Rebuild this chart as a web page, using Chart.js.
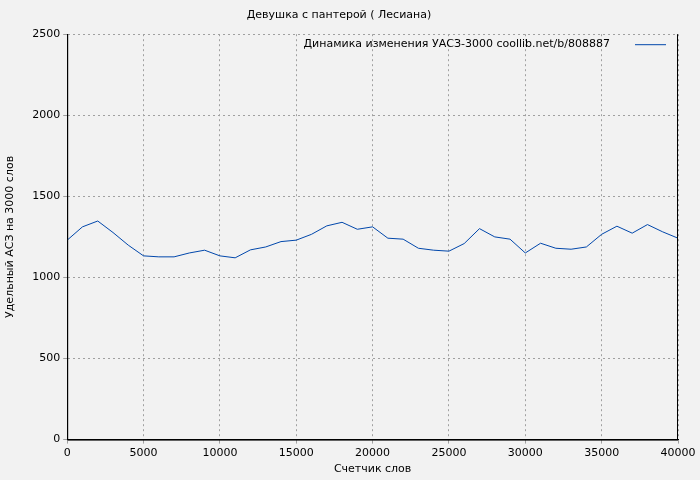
<!DOCTYPE html>
<html><head><meta charset="utf-8">
<script src="https://cdn.jsdelivr.net/npm/chart.js@4/dist/chart.umd.min.js"></script>
<style>html,body{margin:0;background:#f2f2f2}</style>
</head><body><canvas id="c" width="700" height="480"></canvas>
<script>
const xValues=[0,1000,2000,3000,4000,5000,6000,7000,8000,9000,10000,11000,12000,13000,14000,15000,16000,17000,18000,19000,20000,21000,22000,23000,24000,25000,26000,27000,28000,29000,30000,31000,32000,33000,34000,35000,36000,37000,38000,39000,40000];
const yValues=[1230,1312,1348,1277,1199,1133,1127,1127,1151,1168,1133,1121,1170,1188,1221,1230,1266,1318,1340,1297,1312,1242,1236,1180,1168,1162,1209,1301,1250,1236,1151,1211,1180,1174,1188,1266,1316,1273,1326,1281,1242];
const seriesName='Динамика изменения УАСЗ-3000 coollib.net/b/808887';
const titleText='Девушка с пантерой ( Лесиана)';
const font='"DejaVu Sans", sans-serif';
const legendPlugin={id:'lg',afterDraw(ch){const c=ch.ctx,a=ch.chartArea;c.save();c.font='11px '+font;c.fillStyle='#000';c.textAlign='right';c.textBaseline='middle';c.fillText(seriesName,a.right-68,a.top+10);c.strokeStyle='#0047ab';c.lineWidth=1;c.beginPath();c.moveTo(a.right-43,a.top+10.5);c.lineTo(a.right-12,a.top+10.5);c.stroke();c.restore();}};
new Chart(document.getElementById('c'),{type:'line',
data:{datasets:[{data:xValues.map((x,i)=>({x,y:yValues[i]})),borderColor:'#0047ab',borderWidth:1,pointRadius:0,tension:0}]},
options:{responsive:false,animation:false,devicePixelRatio:1,
layout:{padding:{top:0,right:22,left:0,bottom:0}},
plugins:{legend:{display:false},tooltip:{enabled:false},
title:{display:true,text:titleText,color:'#000',font:{family:font,size:11,weight:'normal'},padding:{top:9,bottom:12}}},
scales:{
x:{type:'linear',min:0,max:40000,ticks:{stepSize:5000,color:'#000',font:{family:font,size:11},maxRotation:0,callback:v=>String(v)},
grid:{color:'#a0a0a0',tickLength:4},border:{color:'#000',dash:[2,3]},
title:{display:true,text:'Счетчик слов',color:'#000',font:{family:font,size:11},padding:{top:0}}},
y:{min:0,max:2500,afterFit(s){s.width+=8;},ticks:{stepSize:500,color:'#000',font:{family:font,size:11},callback:v=>String(v)},
grid:{color:'#a0a0a0',tickLength:4},border:{color:'#000',dash:[2,3]},
title:{display:true,text:'Удельный АСЗ на 3000 слов',color:'#000',font:{family:font,size:11}}}}},
plugins:[legendPlugin,{id:'bg',beforeDraw(ch){const c=ch.ctx;c.save();c.fillStyle='#f2f2f2';c.fillRect(0,0,ch.width,ch.height);c.restore();},
afterDatasetsDraw(ch){const c=ch.ctx,a=ch.chartArea;c.save();c.strokeStyle='#000';c.lineWidth=1;c.beginPath();c.moveTo(a.left+0.5,a.top);c.lineTo(a.left+0.5,a.bottom+0.5);c.lineTo(a.right,a.bottom+0.5);c.moveTo(a.right-0.5,a.top);c.lineTo(a.right-0.5,a.bottom);c.stroke();c.restore();}}]
});
</script></body></html>
